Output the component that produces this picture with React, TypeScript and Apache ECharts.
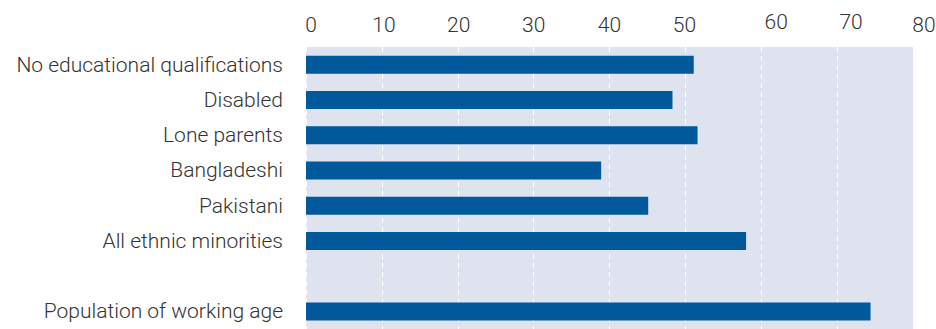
import React, { useEffect, useRef } from "react";
import * as echarts from "echarts";

const categories = [
  "No educational qualifications",
  "Disabled",
  "Lone parents",
  "Bangladeshi",
  "Pakistani",
  "All ethnic minorities",
  "",
  "Population of working age",
];
const values: (number | null)[] = [51.1, 48.3, 51.6, 38.9, 45.1, 58.0, null, 74.4];
const tickLabels = ["0", "10", "20", "30", "40", "50", "60", "70", "80"];
// horizontal nudges of the tick labels as printed in the reference
const tickShift: Record<string, number> = { "0": 5, "10": 2, "20": 1, "30": 0, "40": 0, "50": -1, "60": 15, "70": 14, "80": 11 };
const tickLift: Record<string, number> = { "60": 3, "70": 3, "80": 0 };

const FONT = "Roboto";
const FS = 21;

export default function App() {
  const ref = useRef<HTMLDivElement>(null);
  useEffect(() => {
    if (!ref.current) return;
    const chart = echarts.init(ref.current, undefined, { renderer: "svg" });
    const rich: Record<string, any> = {};
    tickLabels.forEach((t, i) => {
      const s = tickShift[t] || 0;
      const l = tickLift[t] || 0;
      rich["t" + i] = {
        fontSize: FS,
        fontFamily: FONT,
        fontWeight: 300,
        color: "#333",
        padding: [0, s < 0 ? -2 * s : 0, l, s > 0 ? 2 * s : 0],
      };
    });
    chart.setOption({
      animation: false,
      grid: {
        left: 306,
        right: 23,
        top: 47,
        bottom: 0,
        show: true,
        backgroundColor: "#dee3ef",
        borderWidth: 0,
        containLabel: false,
        outerBoundsMode: "none",
      },
      xAxis: {
        type: "value",
        position: "top",
        min: 0,
        max: 80,
        interval: 10,
        axisLine: { show: false },
        axisTick: { show: false },
        axisLabel: {
          margin: 12,
          fontSize: FS,
          fontFamily: FONT,
          fontWeight: 300,
          color: "#333",
          formatter: (v: number) => {
            const t = String(v);
            const i = tickLabels.indexOf(t);
            return i >= 0 ? `{t${i}|${tickLabels[i]}}` : t;
          },
          rich,
        },
        splitLine: { show: true, lineStyle: { color: "#ffffff", type: [5, 4], width: 1 } },
      },
      yAxis: {
        type: "category",
        inverse: true,
        data: categories,
        axisLine: { show: false },
        axisTick: { show: false },
        axisLabel: {
          margin: 23,
          fontSize: FS,
          fontFamily: FONT,
          fontWeight: 300,
          color: "#333",
        },
        splitLine: { show: false },
      },
      series: [
        {
          type: "bar",
          data: values,
          barWidth: 18,
          itemStyle: { color: "#00599b" },
        },
      ],
    });
    return () => chart.dispose();
  }, []);
  return <div ref={ref} style={{ width: 936, height: 329, position: "absolute", left: 0, top: 0 }} />;
}
